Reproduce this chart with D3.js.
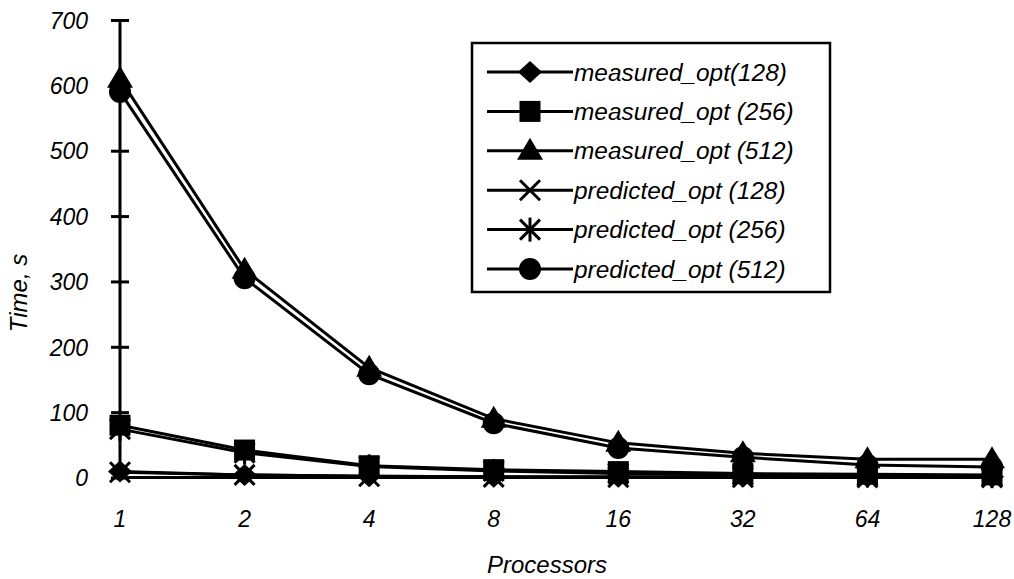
<!DOCTYPE html>
<html>
<head>
<meta charset="utf-8">
<script src="https://cdn.jsdelivr.net/npm/d3@7"></script>
<style>
  html, body { margin: 0; padding: 0; background: #fff; }
  svg text { font-family: "Liberation Sans", Arial, sans-serif; font-style: italic; fill: #000; }
</style>
</head>
<body>
<svg id="chart" width="1014" height="579"></svg>
<script>
// processor counts along the x axis
const processors = ["1", "2", "4", "8", "16", "32", "64", "128"];

// time in seconds
const measured128 = [9, 4, 2, 1, 1, 1, 1, 1];
const measured256 = [80, 42, 18, 12, 9, 6, 5, 4];
const measured512 = [610, 318, 168, 90, 53, 37, 28, 28];
const predicted128 = [8, 4, 2, 1, 0.5, 0.3, 0.2, 0.1];
const predicted256 = [74, 38, 17, 10, 6, 4, 3, 2];
const predicted512 = [590, 305, 158, 83, 45, 31, 19, 16];

const seriesNames = [
  "measured_opt(128)", "measured_opt (256)", "measured_opt (512)",
  "predicted_opt (128)", "predicted_opt (256)", "predicted_opt (512)"
];
const seriesValues = [measured128, measured256, measured512, predicted128, predicted256, predicted512];
const seriesMarkers = ["diamond", "square", "triangle", "cross", "star", "circle"];

const yTicks = [0, 100, 200, 300, 400, 500, 600, 700];

const svg = d3.select("#chart");
const FONT = 23;      // tick labels
const TITLE = 24;     // axis titles
const LEGEND = 24.4;  // legend entries

const x = d3.scalePoint().domain(processors).range([120, 992]);
const y = d3.scaleLinear().domain([0, 700]).range([477.5, 20]);

// marker shapes, roughly like the old Excel ones
function marker(g, kind) {
  if (kind === "diamond") {
    g.append("path").attr("d", "M0,-11L12,0L0,11L-12,0Z").attr("fill", "#000");
  } else if (kind === "square") {
    g.append("rect").attr("x", -10.5).attr("y", -10.5).attr("width", 21).attr("height", 21).attr("fill", "#000");
  } else if (kind === "triangle") {
    g.append("path").attr("d", "M0,-13L13,9L-13,9Z").attr("fill", "#000");
  } else if (kind === "circle") {
    g.append("circle").attr("r", 11).attr("fill", "#000");
  } else if (kind === "cross" || kind === "star") {
    g.append("path").attr("d", "M-10,-10L10,10M10,-10L-10,10")
      .attr("stroke", "#000").attr("stroke-width", 3).attr("fill", "none");
    if (kind === "star") {
      g.append("path").attr("d", "M0,-12L0,12")
        .attr("stroke", "#000").attr("stroke-width", 3);
    }
  }
}

// y axis
const yAxis = svg.append("g")
  .attr("transform", "translate(120,0)")
  .call(d3.axisLeft(y).tickValues(yTicks).tickSize(9).tickPadding(0));
yAxis.select(".domain").remove();
yAxis.selectAll(".tick line").attr("x1", 9).attr("x2", -9)
  .attr("stroke", "#000").attr("stroke-width", 3);
yAxis.selectAll(".tick text").attr("x", -32).attr("dy", "0.36em")
  .style("font-size", FONT + "px").style("font-family", null);
svg.append("line")
  .attr("x1", 120).attr("x2", 120).attr("y1", y(0) + 1).attr("y2", y(700))
  .attr("stroke", "#000").attr("stroke-width", 3);

// x axis line at zero, labels below
svg.append("line")
  .attr("x1", x(processors[0])).attr("x2", x(processors[processors.length - 1]))
  .attr("y1", y(0)).attr("y2", y(0))
  .attr("stroke", "#000").attr("stroke-width", 3);
svg.selectAll(".xlab")
  .data(processors)
  .join("text")
  .attr("class", "xlab")
  .attr("x", d => x(d))
  .attr("y", 527)
  .attr("text-anchor", "middle")
  .style("font-size", FONT + "px")
  .text(d => d);

// axis titles
svg.append("text")
  .attr("x", 547).attr("y", 573)
  .attr("text-anchor", "middle")
  .style("font-size", TITLE + "px")
  .text("Processors");
svg.append("text")
  .attr("transform", "translate(27,293) rotate(-90)")
  .attr("text-anchor", "middle")
  .style("font-size", TITLE + "px")
  .text("Time, s");

// series, drawn one after another like the original
const line = d3.line().x((d, i) => x(processors[i])).y(d => y(d));
seriesValues.forEach((vals, si) => {
  svg.append("path")
    .datum(vals)
    .attr("d", line)
    .attr("fill", "none")
    .attr("stroke", "#000")
    .attr("stroke-width", 3);
  svg.selectAll(".m" + si)
    .data(vals)
    .join("g")
    .attr("class", "m" + si)
    .attr("transform", (d, i) => `translate(${x(processors[i])},${y(d)})`)
    .each(function () { marker(d3.select(this), seriesMarkers[si]); });
});

// legend
const legend = svg.append("g");
legend.append("rect")
  .attr("x", 472).attr("y", 43).attr("width", 358).attr("height", 249)
  .attr("fill", "#fff").attr("stroke", "#000").attr("stroke-width", 2.5);
seriesNames.forEach((name, i) => {
  const cy = 72 + i * 39.4;
  legend.append("line")
    .attr("x1", 487).attr("x2", 573).attr("y1", cy).attr("y2", cy)
    .attr("stroke", "#000").attr("stroke-width", 3);
  marker(legend.append("g").attr("transform", `translate(530,${cy})`), seriesMarkers[i]);
  legend.append("text")
    .attr("x", 574).attr("y", cy + 8.5)
    .style("font-size", LEGEND + "px")
    .text(name);
});
</script>
</body>
</html>
